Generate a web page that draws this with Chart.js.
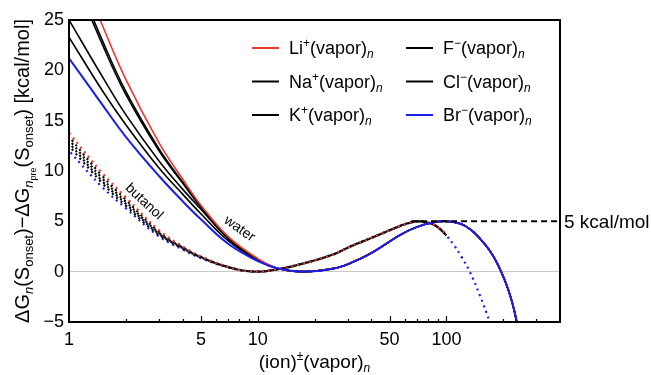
<!DOCTYPE html>
<html>
<head>
<meta charset="utf-8">
<script src="https://cdn.jsdelivr.net/npm/chart.js@4"></script>
<style>
  html, body { margin: 0; padding: 0; background: #fff; }
</style>
</head>
<body>
<canvas id="myChart" width="651" height="375"></canvas>
<script>
// ---- data ----
// water (solid lines): cluster sizes where the six ion curves still differ
const waterHeadN = [1, 1.5, 2, 3, 4, 5, 7, 10, 13];
const waterLi = [32.4, 24.5, 19.1, 12.8, 9.2, 6.6, 3.45, 1.3, 0.28];
const waterNa = [30.9, 23.0, 17.9, 12.2, 8.9, 6.5, 3.35, 1.25, 0.28];
const waterK  = [25.0, 19.4, 15.6, 11.0, 8.2, 6.2, 3.25, 1.2, 0.28];
const waterF  = [30.4, 22.6, 17.6, 12.0, 8.8, 6.4, 3.3, 1.22, 0.28];
const waterCl = [23.3, 18.0, 14.6, 10.3, 7.7, 5.75, 3.05, 1.12, 0.28];
const waterBr = [21.2, 16.6, 13.4, 9.5, 7.0, 5.2, 2.75, 1.05, 0.28];
// water: shared part after the curves merge
const waterTailN = [17.5, 25, 31, 40, 57, 70, 83, 100, 119, 135, 152, 165, 179, 195, 211, 225, 236, 250];
const waterTail  = [0, 0.3, 0.85, 1.85, 3.66, 4.45, 4.86, 5.0, 4.75, 4.15, 3.2, 2.4, 1.4, 0.0, -1.6, -3.3, -5.0, -7.3];

// butanol (dotted lines)
const butHeadN = [1, 1.5, 2, 3, 4, 5, 7];
const butLi = [13.8, 9.8, 7.4, 4.1, 2.5, 1.5, 0.47];
const butNa = [13.4, 9.5, 7.15, 3.95, 2.45, 1.48, 0.46];
const butK  = [13.1, 9.25, 6.95, 3.85, 2.4, 1.45, 0.45];
const butF  = [12.8, 9.0, 6.75, 3.75, 2.35, 1.42, 0.45];
const butCl = [12.5, 8.8, 6.55, 3.65, 2.3, 1.4, 0.44];
const butBr = [12.0, 8.4, 6.3, 3.5, 2.2, 1.35, 0.43];
const butTailN = [9.3, 12, 17, 25, 31, 40, 57, 63, 70, 78, 86, 93, 100];
const butTail  = [0.02, 0.15, 0.76, 1.7, 2.5, 3.35, 4.55, 4.82, 5.0, 4.9, 4.65, 4.2, 3.6];
const butBrEndN = [110, 120, 133, 150, 170, 180];
const butBrEnd  = [2.6, 1.5, 0, -2.3, -5, -6.3];

// 5 kcal/mol reference
const refN = [65, 400];
const refLevel = [5, 5];

// axis ticks
const xTickValues = [1, 2, 3, 4, 5, 6, 7, 8, 9, 10, 20, 30, 40, 50, 60, 70, 80, 90, 100, 200, 300, 400];
const xTickLabels = [1, 5, 10, 50, 100];

const RED = '#e8392b';
const BLUE = '#1a1ee8';
const BLACK = '#000000';
const FONT = "'Liberation Sans', Arial, Helvetica, sans-serif";

function pts(ns, ys) {
  return ns.map((n, i) => ({ x: n, y: ys[i] }));
}

function waterSet(label, head, color, order, width) {
  return {
    label: label,
    data: pts(waterHeadN, head).concat(pts(waterTailN, waterTail)),
    borderColor: color,
    borderWidth: width,
    order: order
  };
}

function butSet(label, head, color, offset, order, tail) {
  return {
    label: label,
    data: pts(butHeadN, head).concat(pts(butTailN, butTail)).concat(tail || []),
    borderColor: color,
    borderWidth: 2.2,
    borderDash: [2, 4],
    borderDashOffset: offset,
    borderCapStyle: 'butt',
    order: order
  };
}

const datasets = [
  waterSet('Li+ water', waterLi, RED, 3, 1.6),
  waterSet('Na+ water', waterNa, BLACK, 3, 1.6),
  waterSet('K+ water', waterK, BLACK, 3, 1.6),
  waterSet('F- water', waterF, BLACK, 3, 1.6),
  waterSet('Cl- water', waterCl, BLACK, 3, 1.6),
  waterSet('Br- water', waterBr, BLUE, 1, 2.0),
  butSet('Li+ butanol', butLi, RED, 0, 2),
  butSet('Na+ butanol', butNa, BLACK, 2, 2),
  butSet('K+ butanol', butK, BLACK, 2, 2),
  butSet('F- butanol', butF, BLACK, 2, 2),
  butSet('Cl- butanol', butCl, BLACK, 2, 2),
  butSet('Br- butanol', butBr, BLUE, 4, 2, pts(butBrEndN, butBrEnd)),
  {
    label: '5 kcal/mol',
    data: pts(refN, refLevel),
    borderColor: BLACK,
    borderWidth: 2,
    borderDash: [6, 4],
    tension: 0,
    order: 0
  }
];

// rich text: parts = [text, size, dy, italic]
function drawRich(ctx, x, y, parts, align) {
  let w = 0;
  parts.forEach(p => {
    ctx.font = (p[3] ? 'italic ' : '') + p[1] + 'px ' + FONT;
    w += ctx.measureText(p[0]).width;
  });
  let cx = align === 'center' ? x - w / 2 : x;
  parts.forEach(p => {
    ctx.font = (p[3] ? 'italic ' : '') + p[1] + 'px ' + FONT;
    ctx.fillText(p[0], cx, y + p[2]);
    cx += ctx.measureText(p[0]).width;
  });
}

const legendItems = [
  { ion: 'Li', sign: '+', color: RED, col: 0, row: 0 },
  { ion: 'Na', sign: '+', color: BLACK, col: 0, row: 1 },
  { ion: 'K', sign: '+', color: BLACK, col: 0, row: 2 },
  { ion: 'F', sign: '\u2212', color: BLACK, col: 1, row: 0 },
  { ion: 'Cl', sign: '\u2212', color: BLACK, col: 1, row: 1 },
  { ion: 'Br', sign: '\u2212', color: BLUE, col: 1, row: 2 }
];

const decorPlugin = {
  id: 'decor',
  afterDraw(chart) {
    const { ctx, chartArea: a, scales: { x, y } } = chart;
    ctx.save();
    ctx.fillStyle = '#000';
    ctx.strokeStyle = '#000';

    // inward ticks on the bottom axis
    ctx.lineWidth = 1.2;
    xTickValues.forEach(v => {
      if (v === 1 || v === 400) return;
      const px = Math.round(x.getPixelForValue(v)) + 0.5;
      const len = xTickLabels.includes(v) ? 6 : 3;
      ctx.beginPath();
      ctx.moveTo(px, a.bottom);
      ctx.lineTo(px, a.bottom - len);
      ctx.stroke();
    });

    // frame
    ctx.lineWidth = 2;
    ctx.strokeRect(a.left, a.top, a.right - a.left, a.bottom - a.top);

    // legend
    ctx.textBaseline = 'alphabetic';
    ctx.textAlign = 'left';
    const colX = [252, 406];
    const rowY = [54, 87.5, 121];
    legendItems.forEach(it => {
      const lx = colX[it.col], by = rowY[it.row];
      ctx.strokeStyle = it.color;
      ctx.lineWidth = 2;
      ctx.beginPath();
      ctx.moveTo(lx, by - 6);
      ctx.lineTo(lx + 27, by - 6);
      ctx.stroke();
      drawRich(ctx, lx + 37, by, [
        [it.ion, 18, 0], [it.sign, 12, -7], ['(vapor)', 18, 0], ['n', 12, 4, true]
      ]);
    });

    // 5 kcal/mol label
    ctx.font = '19px ' + FONT;
    ctx.fillText('5 kcal/mol', a.right + 4, y.getPixelForValue(5) + 7);

    // curve labels
    const curveLabel = (text, n, v, deg) => {
      ctx.save();
      ctx.translate(x.getPixelForValue(n), y.getPixelForValue(v));
      ctx.rotate(deg * Math.PI / 180);
      ctx.font = '14px ' + FONT;
      ctx.textAlign = 'center';
      ctx.textBaseline = 'middle';
      ctx.fillText(text, 0, 0);
      ctx.restore();
    };
    curveLabel('butanol', 2.5, 6.95, 43);
    curveLabel('water', 8.0, 4.25, 35);

    // x title
    ctx.textAlign = 'left';
    ctx.textBaseline = 'alphabetic';
    drawRich(ctx, (a.left + a.right) / 2, 368, [
      ['(ion)', 19, 0], ['\u00b1', 12, -8], ['(vapor)', 19, 0], ['n', 12, 4, true]
    ], 'center');

    // y title (rotated)
    ctx.translate(29, (a.top + a.bottom) / 2);
    ctx.rotate(-Math.PI / 2);
    drawRich(ctx, 0, 0, [
      ['\u0394G', 20, 0], ['n', 13, 4, true], ['(S', 20, 0], ['onset', 13, 4],
      [')\u2212\u0394G', 20, 0], ['n', 13, 4, true], ['pre', 9, 7], ['(S', 20, 0], ['onset', 13, 4],
      [') [kcal/mol]', 20, 0]
    ], 'center');

    ctx.restore();
  }
};

const ctx = document.getElementById('myChart').getContext('2d');
let myChart = new Chart(ctx, {
  type: 'line',
  data: { datasets: datasets },
  options: {
    responsive: false,
    animation: false,
    layout: { padding: { top: 20, right: 91, left: 0, bottom: 0 } },
    elements: {
      point: { radius: 0 },
      line: { tension: 0.4 }
    },
    plugins: {
      legend: { display: false },
      tooltip: { enabled: false }
    },
    scales: {
      x: {
        type: 'logarithmic',
        min: 1,
        max: 400,
        afterBuildTicks: s => { s.ticks = xTickValues.map(v => ({ value: v })); },
        afterFit: s => { s.height = 53; },
        grid: { display: false, drawTicks: false },
        border: { display: false },
        ticks: {
          autoSkip: false,
          maxRotation: 0,
          padding: 7,
          color: '#000',
          font: { family: FONT, size: 18 },
          callback: v => xTickLabels.includes(v) ? String(v) : ''
        }
      },
      y: {
        type: 'linear',
        min: -5,
        max: 25,
        afterFit: s => { s.width = 69; },
        border: { display: false },
        grid: {
          drawTicks: false,
          color: c => (c.tick && c.tick.value === 0) ? '#c8c8c8' : 'rgba(0,0,0,0)',
          lineWidth: 1
        },
        ticks: {
          stepSize: 5,
          padding: 5,
          color: '#000',
          font: { family: FONT, size: 18 },
          callback: v => v < 0 ? '\u2212' + Math.abs(v) : String(v)
        }
      }
    }
  },
  plugins: [decorPlugin]
});
</script>
</body>
</html>
